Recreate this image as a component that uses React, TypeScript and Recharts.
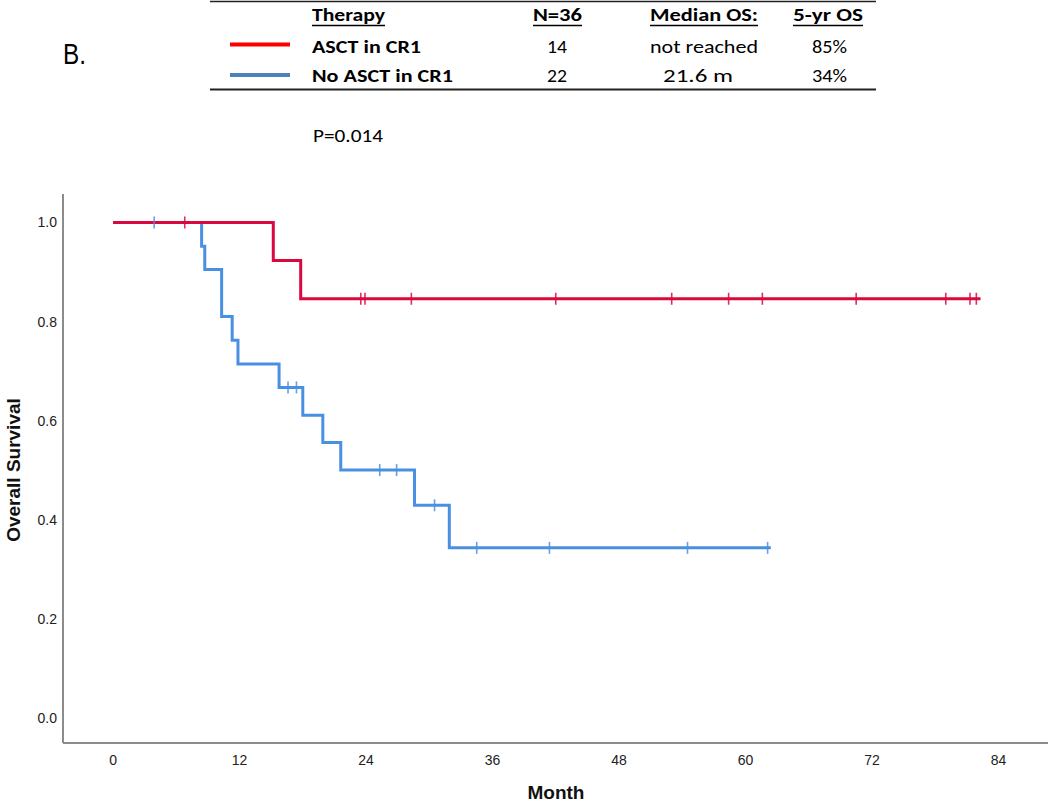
import React from 'react';
import { ComposedChart, Line, Scatter, XAxis, YAxis } from 'recharts';

// ---- data ----
const monthTicks = [0, 12, 24, 36, 48, 60, 72, 84];
const survivalTicks = [0, 0.2, 0.4, 0.6, 0.8, 1.0];

const asctTimes = [0, 15.2, 17.8, 82.3];
const asctSurv = [1, 0.923, 0.846, 0.846];
const asctCensorTimes = [6.8, 23.5, 23.9, 28.3, 42.0, 53.0, 58.4, 61.6, 70.5, 79.0, 81.3, 81.9];
const asctCensorSurv = [1, 0.846, 0.846, 0.846, 0.846, 0.846, 0.846, 0.846, 0.846, 0.846, 0.846, 0.846];

const noAsctTimes = [0, 8.4, 8.7, 10.3, 11.3, 11.85, 15.75, 18.0, 19.9, 21.6, 28.6, 31.9, 62.4];
const noAsctSurv = [1, 0.952, 0.905, 0.81, 0.762, 0.714, 0.667, 0.611, 0.556, 0.5, 0.429, 0.343, 0.343];
const noAsctCensorTimes = [3.9, 16.6, 17.4, 25.3, 26.9, 30.5, 34.5, 41.4, 54.5, 62.1];
const noAsctCensorSurv = [1, 0.667, 0.667, 0.5, 0.5, 0.429, 0.343, 0.343, 0.343, 0.343];

const tableHeaders = ['Therapy', 'N=36', 'Median OS:', '5-yr OS'];
const therapies = ['ASCT in CR1', 'No ASCT in CR1'];
const nValues = ['14', '22'];
const medianOS = ['not reached', '21.6 m'];
const fiveYrOS = ['85%', '34%'];
const panelLabel = 'B.';
const pValue = 'P=0.014';

// ---- build ----
const zip = (ts: number[], ss: number[]) => ts.map((t, i) => ({ t, s: ss[i] }));
const asctLine = zip(asctTimes, asctSurv);
const asctCensor = zip(asctCensorTimes, asctCensorSurv);
const noAsctLine = zip(noAsctTimes, noAsctSurv);
const noAsctCensor = zip(noAsctCensorTimes, noAsctCensorSurv);

const RED = '#D9083F';
const BLUE = '#4A90E2';
const LEG_RED = '#FF0000';
const LEG_BLUE = '#4F81BD';

const censorShape = (color: string) => (props: any) => {
  const { cx, cy } = props;
  if (cx == null || cy == null) return <g />;
  return (
    <line x1={cx} x2={cx} y1={cy - 6} y2={cy + 6} stroke={color} strokeWidth={1.6} strokeOpacity={0.85} />
  );
};

const tableFont = "Carlito, 'Open Sans', sans-serif";
const axisFont = "'Liberation Sans', Arial, sans-serif";

// column layout of table text: [xStart, xEnd]
const colSpans: [number, number][] = [
  [312, 385],
  [533, 582],
  [650, 758],
  [793, 863],
];
const rowSpans: [number, number][][] = [
  [[312, 421], [547, 567], [650, 758], [812, 847]],
  [[312, 453], [547, 567], [663, 733], [812, 847]],
];
const rowBaselines = [53, 82];

const TText = ({ x0, x1, y, children, bold, size = 19 }: any) => (
  <text
    x={x0}
    y={y}
    textLength={x1 - x0}
    lengthAdjust="spacingAndGlyphs"
    fontFamily={tableFont}
    fontSize={size}
    fontWeight={bold ? 700 : 400}
    fill="#000"
  >
    {children}
  </text>
);

export default function App() {
  return (
    <div style={{ position: 'absolute', left: 0, top: 0, width: 1050, height: 804, background: '#fff' }}>
      <ComposedChart
        width={1050}
        height={804}
        margin={{ top: 194, right: 2, bottom: 41, left: 3 }}
        style={{ position: 'absolute', left: 0, top: 0 }}
      >
        <XAxis
          type="number"
          dataKey="t"
          domain={[-4.75, 88.7]}
          ticks={monthTicks}
          interval={0}
          allowDataOverflow
          height={20}
          tickLine={false}
          tickSize={1}
          tickMargin={11}
          axisLine={{ stroke: '#8c8c8c', strokeWidth: 2 }}
          tick={{ fill: '#222', fontSize: 14, fontFamily: axisFont }}
        />
        <YAxis
          type="number"
          dataKey="s"
          domain={[-0.051, 1.0575]}
          ticks={survivalTicks}
          interval={0}
          allowDataOverflow
          width={60}
          tickLine={false}
          tickSize={1}
          tickMargin={5}
          tickFormatter={(v: number) => v.toFixed(1)}
          axisLine={{ stroke: '#8c8c8c', strokeWidth: 2 }}
          tick={{ fill: '#222', fontSize: 14, fontFamily: axisFont }}
        />
        <Line
          data={noAsctLine}
          dataKey="s"
          type="stepAfter"
          stroke={BLUE}
          strokeWidth={3}
          dot={false}
          activeDot={false}
          isAnimationActive={false}
        />
        <Line
          data={asctLine}
          dataKey="s"
          type="stepAfter"
          stroke={RED}
          strokeWidth={3}
          dot={false}
          activeDot={false}
          isAnimationActive={false}
        />
        <Scatter data={noAsctCensor} dataKey="s" shape={censorShape(BLUE)} isAnimationActive={false} />
        <Scatter data={asctCensor} dataKey="s" shape={censorShape(RED)} isAnimationActive={false} />
      </ComposedChart>
      <svg width={1050} height={804} style={{ position: 'absolute', left: 0, top: 0, pointerEvents: 'none' }}>
        {/* table rules */}
        <line x1={210} x2={876} y1={1.5} y2={1.5} stroke="#222" strokeWidth={1.6} />
        <line x1={210} x2={876} y1={89.5} y2={89.5} stroke="#222" strokeWidth={1.8} />
        {/* headers */}
        {tableHeaders.map((h, i) => (
          <g key={h}>
            <TText x0={colSpans[i][0]} x1={colSpans[i][1]} y={21} bold>
              {h}
            </TText>
            <line x1={colSpans[i][0]} x2={colSpans[i][1]} y1={25.5} y2={25.5} stroke="#000" strokeWidth={1.3} />
          </g>
        ))}
        {/* legend swatches */}
        <line x1={230} x2={290} y1={44.5} y2={44.5} stroke={LEG_RED} strokeWidth={4} />
        <line x1={230} x2={290} y1={75} y2={75} stroke={LEG_BLUE} strokeWidth={4} />
        {therapies.map((th, r) => {
          const cells = [th, nValues[r], medianOS[r], fiveYrOS[r]];
          return cells.map((c, i) => (
            <TText key={r + '-' + i} x0={rowSpans[r][i][0]} x1={rowSpans[r][i][1]} y={rowBaselines[r]} bold={i === 0}>
              {c}
            </TText>
          ));
        })}
        {/* panel label */}
        <text x={63} y={64} textLength={23} lengthAdjust="spacingAndGlyphs" fontFamily={axisFont} fontSize={29} fill="#000">
          {panelLabel}
        </text>
        <text x={313} y={142} textLength={70} lengthAdjust="spacingAndGlyphs" fontFamily={tableFont} fontSize={19} fill="#000">
          {pValue}
        </text>
        {/* axis titles */}
        <text x={556} y={799} textAnchor="middle" fontFamily={axisFont} fontSize={19} fontWeight={700} fill="#111">
          Month
        </text>
        <text
          transform="translate(20,470) rotate(-90)"
          textAnchor="middle"
          fontFamily={axisFont}
          fontSize={19}
          fontWeight={700}
          fill="#111"
        >
          Overall Survival
        </text>
      </svg>
    </div>
  );
}
